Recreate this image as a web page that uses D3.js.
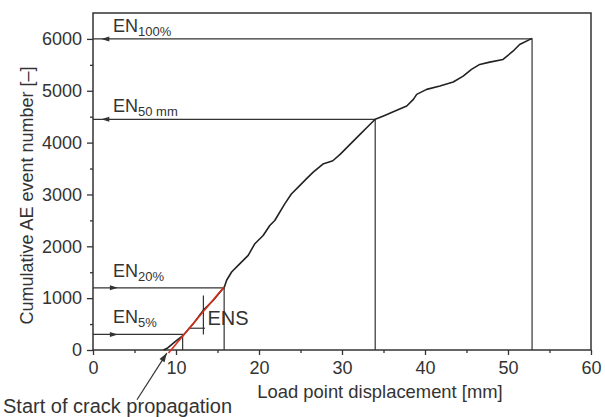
<!DOCTYPE html>
<html>
<head>
<meta charset="utf-8">
<script src="https://cdn.jsdelivr.net/npm/d3@7"></script>
<style>
  body { margin: 0; background: #fff; }
  text { font-family: "Liberation Sans", Arial, sans-serif; fill: #333; }
</style>
</head>
<body>
<div id="chart"></div>
<script>
// cumulative AE event curve
var disp = [8.5, 9.0, 9.9, 10.9, 12.1, 13.3, 14.5, 15.5, 15.8, 16.1, 16.7, 17.7, 18.7, 19.5,
  20.5, 21.3, 21.9, 23.1, 23.9, 24.9, 25.7, 26.5, 27.7, 28.9, 29.8, 31.0, 32.2, 33.0, 34.0,
  35.0, 36.6, 37.8, 38.6, 39.0, 40.2, 41.8, 43.4, 44.6, 45.6, 46.6, 47.8, 49.4, 50.6, 51.4, 52.9],
    events = [0, 40, 160, 288, 512, 768, 960, 1153, 1200, 1345, 1504, 1666, 1825, 2050,
  2209, 2401, 2498, 2818, 3010, 3170, 3300, 3426, 3587, 3650, 3778, 3971, 4163, 4291, 4450,
  4515, 4623, 4707, 4835, 4931, 5027, 5091, 5168, 5283, 5412, 5508, 5552, 5604, 5763, 5892, 6010];

// EN levels
var levelNames = ["100%", "50 mm", "20%", "5%"],
    levelY = [6000, 4450, 1200, 300],
    levelX = [52.9, 34, 15.8, 10.8],
    arrowDir = [-1, -1, 1, 1],
    arrowTip = [1.0, 1.0, 3.0, 3.0];

// linear fit (red) and ENS marks
var fitX = [9.1, 15.8], fitY = [-60, 1220];
var ensX = 13.3, ensY = [300, 1050];
var ensHX = [11.5, 13.5], ensHY = 420;
// crack start arrow: tail, tip
var crackX = [5.3, 8.9], crackY = [-960, -60];

var xTicks = [0, 10, 20, 30, 40, 50, 60],
    xMinor = [5, 15, 25, 35, 45, 55],
    yTicks = [0, 1000, 2000, 3000, 4000, 5000, 6000],
    yMinor = [500, 1500, 2500, 3500, 4500, 5500];

var margin = {top: 13, right: 14, bottom: 67, left: 93},
  width = 605 - margin.left - margin.right,
  height = 417 - margin.top - margin.bottom;

var svg = d3.select("#chart")
  .append("svg")
  .attr("width", 605)
  .attr("height", 417)
  .append("g")
  .attr("transform", "translate(" + margin.left + "," + margin.top + ")");

var x = d3.scaleLinear().domain([0, 60]).range([0, width]);
var y = d3.scaleLinear().domain([0, 6500]).range([height, 0]);

var ink = "#333";

// frame
svg.append("rect")
  .attr("x", 0).attr("y", 0)
  .attr("width", width).attr("height", height)
  .attr("fill", "none")
  .attr("stroke", ink)
  .attr("stroke-width", 1.5);

// axes
function styleAxis(g) {
  g.select(".domain").remove();
  g.selectAll(".tick line").attr("stroke", ink).attr("stroke-width", 1.3);
  g.selectAll(".tick text").attr("fill", ink).style("font-size", "18px")
    .style("font-family", '"Liberation Sans", Arial, sans-serif');
}
svg.append("g")
  .attr("transform", "translate(0," + height + ")")
  .call(d3.axisBottom(x).tickValues(xTicks).tickFormat(d3.format("d"))
    .tickSize(5).tickPadding(6).tickSizeOuter(0))
  .call(styleAxis);
svg.append("g")
  .attr("transform", "translate(0," + height + ")")
  .call(d3.axisBottom(x).tickValues(xMinor).tickSize(3).tickFormat("").tickSizeOuter(0))
  .call(styleAxis);
svg.append("g")
  .call(d3.axisLeft(y).tickValues(yTicks).tickFormat(d3.format("d"))
    .tickSize(6).tickPadding(5).tickSizeOuter(0))
  .call(styleAxis);
svg.append("g")
  .call(d3.axisLeft(y).tickValues(yMinor).tickSize(3).tickFormat("").tickSizeOuter(0))
  .call(styleAxis);

// axis labels
svg.append("text")
  .attr("text-anchor", "middle")
  .attr("x", 287)
  .attr("y", height + 48)
  .style("font-size", "18.4px")
  .text("Load point displacement [mm]");
svg.append("text")
  .attr("text-anchor", "middle")
  .attr("transform", "translate(-60," + (height / 2 + 14) + ")rotate(-90)")
  .style("font-size", "18px")
  .text("Cumulative AE event number [\u2013]");

// EN level lines
levelY.forEach(function(ly, i) {
  svg.append("path")
    .attr("fill", "none")
    .attr("stroke", ink)
    .attr("stroke-width", 1.2)
    .attr("d", d3.line()([[x(0), y(ly)], [x(levelX[i]), y(ly)], [x(levelX[i]), y(0)]]));
  // arrow head
  var tx = x(arrowTip[i]), ty = y(ly), d = arrowDir[i];
  svg.append("path")
    .attr("fill", ink)
    .attr("d", "M" + tx + "," + ty + "L" + (tx - d * 8) + "," + (ty - 2.5) +
      "L" + (tx - d * 8) + "," + (ty + 2.5) + "Z");
  // label
  var lab = svg.append("text")
    .attr("x", x(0) + 20)
    .attr("y", y(ly) - (i < 2 ? 7 : 11))
    .style("font-size", "18px");
  lab.append("tspan").text("EN");
  lab.append("tspan").attr("dy", 4).style("font-size", "13px").text(levelNames[i]);
});

// ENS marks
svg.append("path")
  .attr("fill", "none").attr("stroke", ink).attr("stroke-width", 1.2)
  .attr("d", d3.line()([[x(ensX), y(ensY[0])], [x(ensX), y(ensY[1])]]));
svg.append("path")
  .attr("fill", "none").attr("stroke", ink).attr("stroke-width", 1.2)
  .attr("d", d3.line()([[x(ensHX[0]), y(ensHY)], [x(ensHX[1]), y(ensHY)]]));
svg.append("text")
  .attr("x", x(ensX) + 4)
  .attr("y", y(ensHY) - 3)
  .style("font-size", "20px")
  .text("ENS");

// main curve
svg.append("path")
  .datum(d3.zip(disp, events))
  .attr("fill", "none")
  .attr("stroke", "#222")
  .attr("stroke-width", 1.6)
  .attr("stroke-linejoin", "round")
  .attr("d", d3.line()
    .x(function(d) { return x(d[0]); })
    .y(function(d) { return y(d[1]); })
  );

// linear fit
svg.append("path")
  .datum(d3.zip(fitX, fitY))
  .attr("fill", "none")
  .attr("stroke", "#d9301c")
  .attr("stroke-width", 1.6)
  .attr("d", d3.line()
    .x(function(d) { return x(d[0]); })
    .y(function(d) { return y(d[1]); })
  );

// start of crack propagation arrow
var x0 = x(crackX[0]), y0 = y(crackY[0]), x1 = x(crackX[1]), y1 = y(crackY[1]);
var ang = Math.atan2(y1 - y0, x1 - x0);
svg.append("path")
  .attr("stroke", ink).attr("stroke-width", 1.2)
  .attr("d", "M" + x0 + "," + y0 + "L" + x1 + "," + y1);
svg.append("path")
  .attr("fill", ink)
  .attr("d", "M" + x1 + "," + y1 +
    "L" + (x1 - 9 * Math.cos(ang) + 3 * Math.sin(ang)) + "," + (y1 - 9 * Math.sin(ang) - 3 * Math.cos(ang)) +
    "L" + (x1 - 9 * Math.cos(ang) - 3 * Math.sin(ang)) + "," + (y1 - 9 * Math.sin(ang) + 3 * Math.cos(ang)) + "Z");
svg.append("text")
  .attr("x", -margin.left + 3)
  .attr("y", height + 63)
  .style("font-size", "20px")
  .text("Start of crack propagation");
</script>
</body>
</html>
